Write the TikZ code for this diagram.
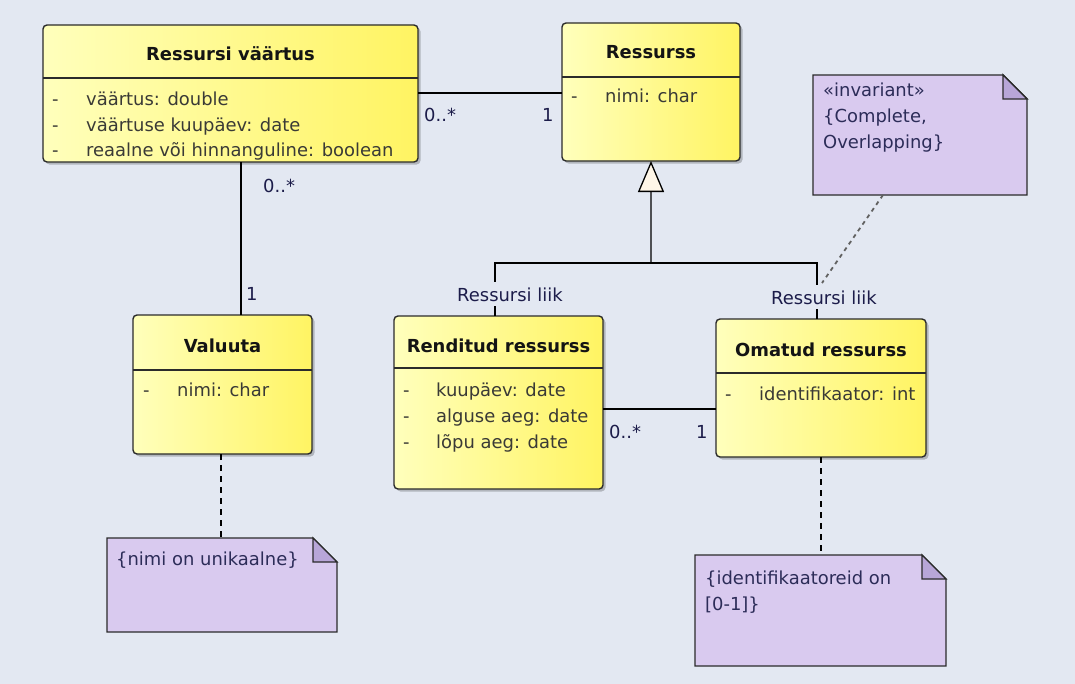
\documentclass[tikz,border=0pt]{standalone}
\usepackage{fontspec}
\setmainfont{DejaVu Sans}
\usetikzlibrary{arrows.meta,shadows}

\definecolor{bg}{HTML}{E3E8F2}
\definecolor{edge}{HTML}{2B2B2B}
\definecolor{ylwL}{HTML}{FFFFBC}
\definecolor{ylwR}{HTML}{FFF462}
\definecolor{titlec}{HTML}{141414}
\definecolor{attrc}{HTML}{3A3A36}
\definecolor{labc}{HTML}{1C1C4A}
\definecolor{notefill}{HTML}{D9CAEF}
\definecolor{foldfill}{HTML}{B8A6D8}
\definecolor{notec}{HTML}{2C2C58}
\definecolor{trifill}{HTML}{FFF6E8}

% folded-corner outline of a UML note around an (invisible) node
\newcommand\drawnote[1]{%
  \draw[noteline, fill=notefill] (#1.north west) -- ([xshift=-24bp]#1.north east)
    -- ([yshift=-24bp]#1.north east) -- (#1.south east) -- (#1.south west) -- cycle;
  \draw[noteline, fill=foldfill] ([xshift=-24bp]#1.north east)
    -- ([xshift=-24bp,yshift=-24bp]#1.north east) -- ([yshift=-24bp]#1.north east) -- cycle;}

% horizontal compartment divider inside a class box
\newcommand\divider[2]{%
  \draw[line width=1.3bp, draw=edge] ([yshift=-#2bp]#1.north west) -- ([yshift=-#2bp]#1.north east);}

\begin{document}
\begin{tikzpicture}[x=1bp,y=-1bp,
  font=\fontsize{18}{22}\selectfont,
  classbox/.style={draw=edge, line width=1.4bp, rounded corners=4bp,
    left color=ylwL, right color=ylwR,
    drop shadow={shadow xshift=2.5bp, shadow yshift=-2.5bp, opacity=0.22, fill=black},
    anchor=north west, inner sep=0pt, outer sep=0pt},
  notebox/.style={anchor=north west, inner sep=0pt, outer sep=0pt},
  noteline/.style={draw=edge, line width=1.4bp, line join=miter},
  titletxt/.style={font=\fontsize{18}{22}\selectfont\bfseries, text=titlec, anchor=base, inner sep=0pt},
  attr/.style={text=attrc, anchor=base west, inner sep=0pt},
  mult/.style={text=labc, anchor=base west, inner sep=0pt},
  roletxt/.style={text=labc, anchor=base west, inner sep=5bp, fill=bg},
  notetxt/.style={text=notec, anchor=base west, inner sep=0pt},
  assoc/.style={draw=black, line width=1.3bp},
  anchorline/.style={draw=black, line width=1.5bp, dash pattern=on 6bp off 5bp},
  constraintline/.style={draw=black!62, line width=1.8bp, dash pattern=on 4bp off 4bp},
]
\fill[bg] (0,0) rectangle (1075,684);
\useasboundingbox (0,0) rectangle (1075,684);

% ---------- class boxes ----------
\node[classbox, minimum width=375bp, minimum height=137bp] (rv)  at (43,25)  {};
\node[classbox, minimum width=178bp, minimum height=138bp] (res) at (562,23)  {};
\node[classbox, minimum width=179bp, minimum height=139bp] (val) at (133,315) {};
\node[classbox, minimum width=209bp, minimum height=173bp] (ren) at (394,316) {};
\node[classbox, minimum width=210bp, minimum height=138bp] (om)  at (716,319) {};

\divider{rv}{53}
\divider{res}{54}
\divider{val}{55}
\divider{ren}{52}
\divider{om}{54}

% titles
\node[titletxt] (rv-t)  at (230.5,61) {Ressursi väärtus};
\node[titletxt] (res-t) at (651,59)   {Ressurss};
\node[titletxt] (val-t) at (222.5,352) {Valuuta};
\node[titletxt] (ren-t) at (498.5,352) {Renditud ressurss};
\node[titletxt] (om-t)  at (821,356)  {Omatud ressurss};

% attributes
\node[attr] (rv-d1) at (52,106) {-};  \node[attr] (rv-a1) at (86,106) {väärtus: double};
\node[attr] (rv-d2) at (52,132) {-};  \node[attr] (rv-a2) at (86,132) {väärtuse kuupäev: date};
\node[attr] (rv-d3) at (52,157) {-};  \node[attr] (rv-a3) at (86,157) {reaalne või hinnanguline: boolean};

\node[attr] (res-d1) at (571,103) {-}; \node[attr] (res-a1) at (605,103) {nimi: char};

\node[attr] (val-d1) at (143,396) {-}; \node[attr] (val-a1) at (177,396) {nimi: char};

\node[attr] (ren-d1) at (403,396) {-}; \node[attr] (ren-a1) at (436,396) {kuupäev: date};
\node[attr] (ren-d2) at (403,422) {-}; \node[attr] (ren-a2) at (436,422) {alguse aeg: date};
\node[attr] (ren-d3) at (403,448) {-}; \node[attr] (ren-a3) at (436,448) {lõpu aeg: date};

\node[attr] (om-d1) at (725,400) {-};  \node[attr] (om-a1) at (759,400) {identifikaator: int};

% ---------- associations ----------
\draw[assoc] (rv.east |- 0,93) -- (res.west |- 0,93);
\node[mult] (m1) at (424,122) {0..*};
\node[mult] (m2) at (542,122) {1};

\draw[assoc] (rv.south -| 241,0) -- (val.north -| 241,0);
\node[mult] (m3) at (263,193) {0..*};
\node[mult] (m4) at (246,300) {1};

\draw[assoc] (ren.east |- 0,409) -- (om.west |- 0,409);
\node[mult] (m5) at (609,438) {0..*};
\node[mult] (m6) at (696,438) {1};

% ---------- generalization set ----------
\coordinate (hub) at (651,263);
\draw[assoc] ([xshift=-3.5bp]ren.north) |- (hub);
\draw[assoc] ([xshift=-4bp]om.north) |- (hub);
\draw[assoc, line join=miter, -{Triangle[width=26bp,length=31bp,fill=trifill]}] (hub) -- (res.south);
\node[roletxt] (liik1) at (452,301) {Ressursi liik};
\node[roletxt] (liik2) at (766,304) {Ressursi liik};

% ---------- notes ----------
\node[notebox, minimum width=214bp, minimum height=120bp] (inv) at (813,75) {};
\node[notebox, minimum width=230bp, minimum height=94bp]  (uniq) at (107,538) {};
\node[notebox, minimum width=251bp, minimum height=111bp] (idn) at (695,555) {};
\drawnote{inv}
\drawnote{uniq}
\drawnote{idn}

\node[notetxt] (inv-1) at (823,97)  {«invariant»};
\node[notetxt] (inv-2) at (823,123) {\{Complete,};
\node[notetxt] (inv-3) at (823,149) {Overlapping\}};
\node[notetxt] (uniq-1) at (116,565) {\{nimi on unikaalne\}};
\node[notetxt] (idn-1) at (705,584) {\{identifikaatoreid on};
\node[notetxt] (idn-2) at (705,610) {[0-1]\}};

% note anchors
\coordinate (gsR) at (822,283);
\coordinate (valfoot) at ([xshift=-1.5bp]val.south);
\draw[anchorline] (valfoot) -- (uniq.north -| valfoot);
\draw[anchorline] (om.south) -- (idn.north -| om.south);
\draw[constraintline] ([xshift=-37bp]inv.south) -- (gsR);
\end{tikzpicture}
\end{document}
